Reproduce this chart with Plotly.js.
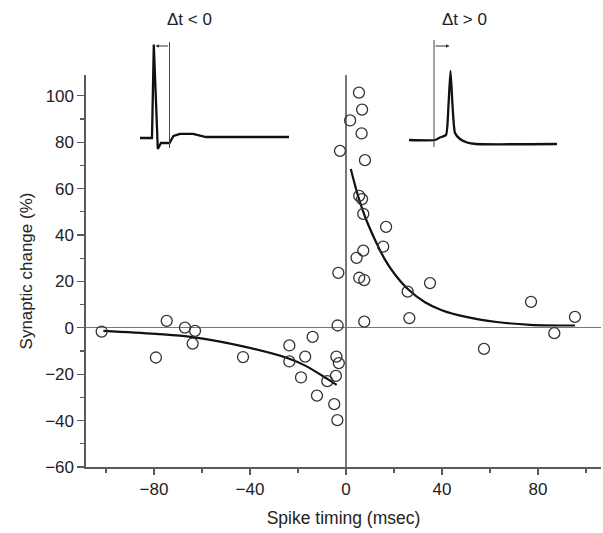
<!DOCTYPE html>
<html><head><meta charset="utf-8">
<script src="https://cdn.plot.ly/plotly-3.0.1.min.js"></script>
<style>html,body{margin:0;padding:0;background:#fff}</style>
</head><body><div id="chart" style="width:603px;height:533px"></div>
<script>
// Scatter data: spike timing (ms) vs synaptic change (%)
const negTiming = [-101.8, -79.2, -74.7, -67.1, -62.9, -63.9, -42.9, -23.6, -23.6, -17.0, -13.9, -18.75, -12.1, -7.8, -3.5, -4.0, -3.0, -4.2, -4.9, -3.6];
const negChange = [-1.6, -12.8, 3.0, 0.1, -1.3, -6.8, -12.6, -7.6, -14.5, -12.4, -3.9, -21.4, -29.2, -23.0, 1.0, -12.4, -15.2, -20.7, -32.9, -39.8];
const posTiming = [5.4, 6.7, 1.7, 6.5, -2.5, 7.9, 5.5, 6.7, 7.2, 16.7, 15.5, 7.2, 4.4, -3.2, 5.5, 7.6, 35.0, 25.7, 77.1, 26.4, 7.6, 95.4, 86.8, 57.5];
const posChange = [101.4, 94.1, 89.4, 83.8, 76.3, 72.3, 56.9, 55.5, 49.1, 43.5, 35.0, 33.3, 30.2, 23.7, 21.6, 20.6, 19.3, 15.6, 11.2, 4.2, 2.7, 4.7, -2.3, -9.1];

// Fitted curves
const negFitTiming = [-101.1, -79.2, -63.9, -42.9, -23.6, -17.0, -7.8, -3.9];
const negFitChange = [-1.3, -2.6, -4.0, -8.0, -13.3, -16.3, -22.0, -24.6];
const posFitTiming = [2.0, 5.1, 7.9, 12.1, 16.3, 20.4, 26.0, 32.9, 39.9, 49.6, 62.8, 76.7, 95.4];
const posFitChange = [68.5, 56.6, 48.0, 37.9, 29.3, 23.0, 16.5, 11.0, 7.6, 4.8, 2.5, 1.3, 1.0];

// Inset waveforms (schematic time / voltage units)
const preTime = [0, 12, 13.8, 17.8, 21, 29.5, 33.5, 40, 53, 66, 149];
const preVolt = [0, 0, 93.5, -11, -5, -5, 2, 4.2, 4.2, 1, 1];
const preMarkTime = [29.5, 29.5];
const preMarkVolt = [-10, 96];
const postTime = [0, 26, 31, 37, 39.5, 41.5, 43.5, 46, 51, 58, 67, 148];
const postVolt = [-2, -2, 0.5, 3, 33, 67, 33, 5, -1, -4.5, -6, -6];
const postMarkTime = [25, 25];
const postMarkVolt = [-9, 98];
const insetLabels = ['\u0394t < 0', '\u0394t > 0'];

const xTicks = [-80, -40, 0, 40, 80];
const yTicks = [-60, -40, -20, 0, 20, 40, 60, 80, 100];

const W = 603, H = 533;
const font = "'Liberation Sans', Arial, Helvetica, sans-serif";
const axisCol = '#5a5a5a';

const traces = [
  {x: negFitTiming, y: negFitChange, mode: 'lines', line: {color: '#111', width: 2.2, shape: 'spline'}, xaxis: 'x', yaxis: 'y', hoverinfo: 'skip'},
  {x: posFitTiming, y: posFitChange, mode: 'lines', line: {color: '#111', width: 2.2, shape: 'spline'}, xaxis: 'x', yaxis: 'y', hoverinfo: 'skip'},
  {x: negTiming, y: negChange, mode: 'markers', marker: {symbol: 'circle-open', size: 11, color: '#333', line: {width: 1.3}}, xaxis: 'x', yaxis: 'y'},
  {x: posTiming, y: posChange, mode: 'markers', marker: {symbol: 'circle-open', size: 11, color: '#333', line: {width: 1.3}}, xaxis: 'x', yaxis: 'y'},
  {x: preTime, y: preVolt, mode: 'lines', line: {color: '#111', width: 2.3}, xaxis: 'x2', yaxis: 'y2'},
  {x: preMarkTime, y: preMarkVolt, mode: 'lines', line: {color: '#444', width: 1}, xaxis: 'x2', yaxis: 'y2'},
  {x: postTime, y: postVolt, mode: 'lines', line: {color: '#111', width: 2.3, shape: 'spline', smoothing: 0.5}, xaxis: 'x3', yaxis: 'y3'},
  {x: postMarkTime, y: postMarkVolt, mode: 'lines', line: {color: '#444', width: 1}, xaxis: 'x3', yaxis: 'y3'}
];

const insetAxis = {showgrid: false, zeroline: false, showline: false, showticklabels: false, ticks: '', fixedrange: true};

const layout = {
  width: W, height: H,
  margin: {l: 0, r: 0, t: 0, b: 0},
  paper_bgcolor: '#fff', plot_bgcolor: 'rgba(0,0,0,0)',
  showlegend: false,
  font: {family: font, color: '#222', size: 15},
  xaxis: {
    domain: [86 / W, 601 / W], range: [-108.33, 106.25],
    tickvals: xTicks, ticks: 'outside', ticklen: 6, tickwidth: 1.2, tickcolor: axisCol,
    minor: {dtick: 20, tick0: 0, ticks: 'outside', ticklen: 4, tickwidth: 1.2, tickcolor: axisCol},
    showline: true, linecolor: axisCol, linewidth: 1.6,
    showgrid: false, zeroline: true, zerolinecolor: '#777', zerolinewidth: 1.2,
    tickfont: {size: 17, color: '#222'},
    title: {text: 'Spike timing (msec)', font: {size: 17.5, color: '#222'}, standoff: 14},
    anchor: 'y'
  },
  yaxis: {
    domain: [66 / H, 458 / H], range: [-60, 109],
    tickvals: yTicks, ticks: 'outside', ticklen: 7, tickwidth: 1.2, tickcolor: axisCol,
    minor: {dtick: 10, tick0: 0, ticks: 'outside', ticklen: 4, tickwidth: 1.2, tickcolor: axisCol},
    showline: true, linecolor: axisCol, linewidth: 1.6,
    showgrid: false, zeroline: true, zerolinecolor: '#777', zerolinewidth: 1.2,
    tickfont: {size: 17, color: '#222'},
    title: {text: 'Synaptic change (%)', font: {size: 17, color: '#222'}, standoff: 8},
    anchor: 'x'
  },
  xaxis2: Object.assign({domain: [140 / W, 290 / W], range: [0, 150], anchor: 'y2'}, insetAxis),
  yaxis2: Object.assign({domain: [(H - 150) / H, (H - 38) / H], range: [-12, 100], anchor: 'x2'}, insetAxis),
  xaxis3: Object.assign({domain: [409 / W, 559 / W], range: [0, 150], anchor: 'y3'}, insetAxis),
  yaxis3: Object.assign({domain: [(H - 150) / H, (H - 38) / H], range: [-12, 100], anchor: 'x3'}, insetAxis),
  annotations: [
    {xref: 'x2', yref: 'y2', axref: 'x2', ayref: 'y2', x: 15.5, y: 92, ax: 29.5, ay: 92, text: '', showarrow: true, arrowhead: 2, arrowsize: 0.7, arrowwidth: 1, arrowcolor: '#333', standoff: 0},
    {xref: 'x3', yref: 'y3', axref: 'x3', ayref: 'y3', x: 40.5, y: 92, ax: 25, ay: 92, text: '', showarrow: true, arrowhead: 2, arrowsize: 0.7, arrowwidth: 1, arrowcolor: '#333', standoff: 0},
    {xref: 'paper', yref: 'paper', x: 189 / W, y: 1 - 20 / H, text: insetLabels[0], showarrow: false, font: {size: 17, color: '#222'}, xanchor: 'center', yanchor: 'middle'},
    {xref: 'paper', yref: 'paper', x: 464 / W, y: 1 - 20 / H, text: insetLabels[1], showarrow: false, font: {size: 17, color: '#222'}, xanchor: 'center', yanchor: 'middle'}
  ]
};

Plotly.newPlot('chart', traces, layout, {staticPlot: true, displayModeBar: false});
</script>
</body></html>
